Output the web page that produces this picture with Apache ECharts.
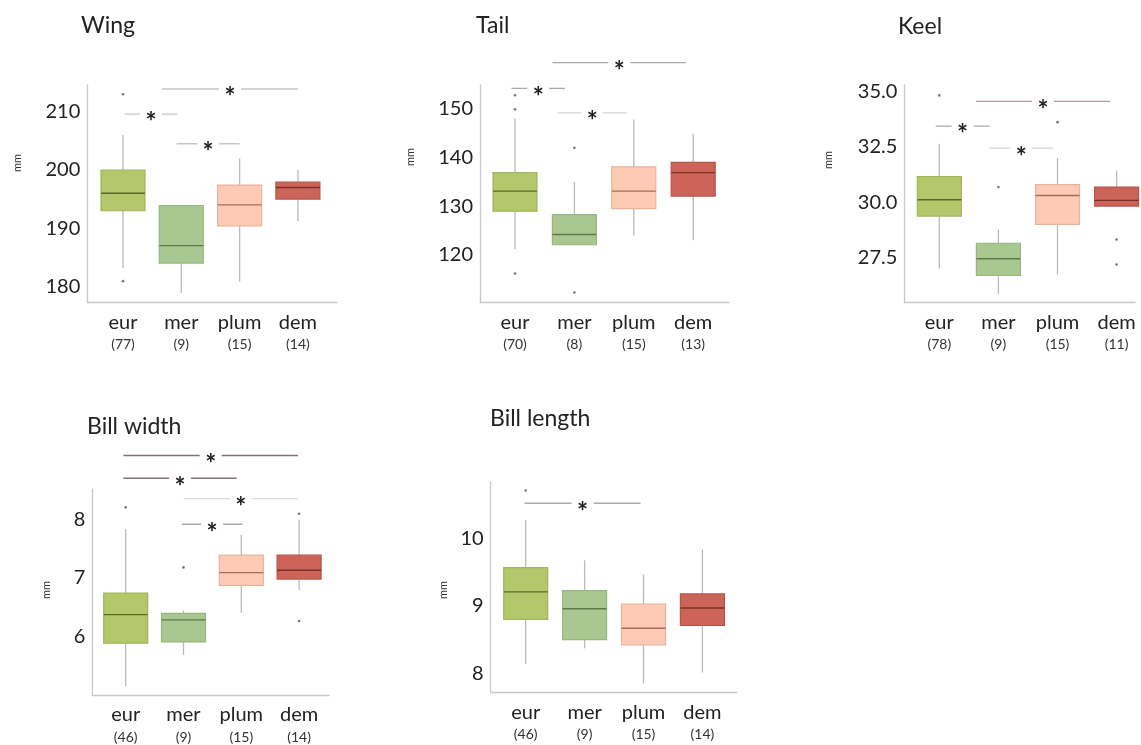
<!DOCTYPE html>
<html><head><meta charset="utf-8">
<script src="https://cdn.jsdelivr.net/npm/echarts@6/dist/echarts.min.js"></script>
<style>html,body{margin:0;padding:0;background:#fff}#c{width:1141px;height:745px}</style>
</head><body><div id="c"></div><script>
// ---------- DATA ----------
const categories = ['eur', 'mer', 'plum', 'dem'];
// each box: [min, Q1, median, Q3, max]
const wingBoxes = [[183.1,193.0,196.0,200.0,206.0],[178.9,184.0,187.0,193.9,193.9],[180.8,190.4,194.0,197.4,202.0],[191.2,195.0,197.0,197.9,200.0]];
const wingCounts = [77, 9, 15, 14];
const wingOutliers = [[0,213.0],[0,180.9]];
const wingSig = [[0.03,0.93,209.6],[0.92,2.0,204.5],[0.67,3.0,213.9]];
const wingRange = [177.2, 214.6];
const wingTicks = [180, 190, 200, 210];

const tailBoxes = [[121.2,129.0,133.1,136.9,148.0],[122.1,122.1,124.2,128.3,135.0],[124.0,129.5,133.1,138.1,147.8],[123.0,132.1,136.9,139.0,144.9]];
const tailCounts = [70, 8, 15, 13];
const tailOutliers = [[0,152.8],[0,149.9],[0,116.2],[1,142.0],[1,112.3]];
const tailSig = [[-0.06,0.84,154.2],[0.72,1.88,149.2],[0.63,2.88,159.5]];
const tailRange = [110.2, 154.9];
const tailTicks = [120, 130, 140, 150];

const keelBoxes = [[27.0,29.37,30.11,31.16,32.64],[25.85,26.68,27.44,28.14,28.76],[26.73,28.99,30.30,30.79,32.0],[29.82,29.82,30.08,30.68,31.43]];
const keelCounts = [78, 9, 15, 11];
const keelOutliers = [[0,34.83],[1,30.68],[2,33.62],[3,28.31],[3,27.18]];
const keelSig = [[-0.06,0.85,33.44],[0.85,1.92,32.44],[0.62,2.89,34.56]];
const keelRange = [25.45, 35.3];
const keelTicks = [27.5, 30.0, 32.5, 35.0];

const billWidthBoxes = [[5.14,5.88,6.37,6.74,7.84],[5.68,5.90,6.28,6.39,6.44],[6.40,6.87,7.09,7.39,7.74],[6.79,6.98,7.13,7.39,7.99]];
const billWidthCounts = [46, 9, 15, 14];
const billWidthOutliers = [[0,8.21],[1,7.18],[3,8.10],[3,6.26]];
const billWidthSig = [[-0.04,2.98,9.10],[-0.04,1.92,8.71],[1.0,2.98,8.36],[0.97,2.02,7.92]];
const billWidthRange = [4.99, 8.52];
const billWidthTicks = [6, 7, 8];

const billLengthBoxes = [[8.14,8.80,9.21,9.57,10.28],[8.37,8.50,8.96,9.23,9.68],[7.85,8.42,8.67,9.03,9.47],[8.01,8.71,8.97,9.18,9.84]];
const billLengthCounts = [46, 9, 15, 14];
const billLengthOutliers = [[0,10.72]];
const billLengthSig = [[-0.02,1.95,10.53]];
const billLengthRange = [7.71, 10.85];
const billLengthTicks = [8, 9, 10];

const titles = ['Wing', 'Tail', 'Keel', 'Bill width', 'Bill length'];
const unitLabel = 'mm';

// ---------- STYLES / LAYOUT ----------
const FONT = 'Lato, "Open Sans", sans-serif';
const boxStyles = [
  {fill:'#b4c76b', stroke:'#a2b55b', median:'#586a2c'},
  {fill:'#a9c891', stroke:'#97b77f', median:'#5c7a4b'},
  {fill:'#fdcbb5', stroke:'#e9b39b', median:'#a06e5b'},
  {fill:'#cd6459', stroke:'#b7544a', median:'#7b3027'}
];
const tones = {dark:'#857272', pink:'#b39c9c', mid:'#a9a9a9', soft:'#c6c6c6', light:'#dcdcdc'};
const panels = [
  {boxes:wingBoxes, counts:wingCounts, outliers:wingOutliers, sig:wingSig, range:wingRange, ticks:wingTicks, dec:0,
   sigTone:['soft','soft','soft'],
   L:{left:87.3,right:337,top:85,bottom:302.7,c0:123,step:58.3,title:[81,14],mm:[17,163]}},
  {boxes:tailBoxes, counts:tailCounts, outliers:tailOutliers, sig:tailSig, range:tailRange, ticks:tailTicks, dec:0,
   sigTone:['mid','light','mid'],
   L:{left:480,right:729,top:85,bottom:302.7,c0:515,step:59.4,title:[476,14],mm:[410,157]}},
  {boxes:keelBoxes, counts:keelCounts, outliers:keelOutliers, sig:keelSig, range:keelRange, ticks:keelTicks, dec:1,
   sigTone:['mid','light','pink'],
   L:{left:904.3,right:1135,top:85,bottom:302.7,c0:939.3,step:59.1,title:[898,15],mm:[828,160]}},
  {boxes:billWidthBoxes, counts:billWidthCounts, outliers:billWidthOutliers, sig:billWidthSig, range:billWidthRange, ticks:billWidthTicks, dec:0,
   sigTone:['dark','dark','light','mid'],
   L:{left:92.3,right:329,top:489.3,bottom:695,c0:125.7,step:57.8,title:[87,415],mm:[46,590]}},
  {boxes:billLengthBoxes, counts:billLengthCounts, outliers:billLengthOutliers, sig:billLengthSig, range:billLengthRange, ticks:billLengthTicks, dec:0,
   sigTone:['mid'],
   L:{left:490.7,right:736.7,top:481.7,bottom:692.7,c0:525.7,step:58.9,title:[490,407],mm:[443,590]}}
];
const BOX_W = 44;
const STAR_SIZE = 26;

const grid = [], xAxis = [], yAxis = [], series = [], title = [], graphic = [];
panels.forEach((p, k) => {
  const L = p.L;
  const og = 2*k, ig = 2*k+1;
  grid.push({left:L.left, top:L.top, width:L.right-L.left, height:L.bottom-L.top, containLabel:false, outerBoundsMode:'none'});
  grid.push({left:L.c0-L.step/2, top:L.top, width:L.step*4, height:L.bottom-L.top, containLabel:false, outerBoundsMode:'none'});
  const step = p.ticks[1]-p.ticks[0];
  // outer (frame) axes
  xAxis.push({type:'value', gridIndex:og, min:(L.left-L.c0)/L.step, max:(L.right-L.c0)/L.step,
    axisLine:{show:true, onZero:false, lineStyle:{color:'#c9c9c9', width:1.3}},
    axisTick:{show:false}, axisLabel:{show:false}, splitLine:{show:false}});
  yAxis.push({type:'value', gridIndex:og, min:p.range[0], max:p.range[1], minInterval:step, maxInterval:step,
    axisLine:{show:true, onZero:false, lineStyle:{color:'#c9c9c9', width:1.3}},
    axisTick:{show:false}, splitLine:{show:false},
    axisLabel:{show:true, margin:7, color:'#222', fontSize:20, fontFamily:FONT,
      showMinLabel:true, showMaxLabel:true,
      formatter: v => p.ticks.some(t => Math.abs(t - v) < 1e-6) ? v.toFixed(p.dec) : ''}});
  // inner (category label) axes
  xAxis.push({type:'category', gridIndex:ig, data:categories, boundaryGap:true,
    axisLine:{show:false}, axisTick:{show:false}, splitLine:{show:false},
    axisLabel:{show:true, interval:0, margin:8,
      formatter:(v, i) => '{a|' + v + '}\n{b|(' + p.counts[i] + ')}',
      rich:{a:{fontSize:20, lineHeight:24, color:'#222', fontFamily:FONT},
            b:{fontSize:14, lineHeight:20, color:'#333', fontFamily:FONT}}}});
  yAxis.push({type:'value', gridIndex:ig, min:p.range[0], max:p.range[1], show:false});

  // boxes
  series.push({type:'custom', xAxisIndex:og, yAxisIndex:og, clip:false, silent:true,
    data:p.boxes.map((b, i) => [i].concat(b)),
    encode:{x:0, y:[1,2,3,4,5]},
    renderItem:(params, api) => {
      const x = api.value(0);
      const lo = api.coord([x, api.value(1)]), q1 = api.coord([x, api.value(2)]),
            md = api.coord([x, api.value(3)]), q3 = api.coord([x, api.value(4)]),
            hi = api.coord([x, api.value(5)]);
      const s = boxStyles[params.dataIndex], hw = BOX_W/2;
      return {type:'group', children:[
        {type:'line', shape:{x1:lo[0], y1:lo[1], x2:hi[0], y2:hi[1]}, style:{stroke:'#bababa', lineWidth:1.3}},
        {type:'rect', shape:{x:q3[0]-hw, y:q3[1], width:BOX_W, height:q1[1]-q3[1]}, style:{fill:s.fill, stroke:s.stroke, lineWidth:1.2}},
        {type:'line', shape:{x1:md[0]-hw, y1:md[1], x2:md[0]+hw, y2:md[1]}, style:{stroke:s.median, lineWidth:1.4}}
      ]};
    }});
  // outliers
  series.push({type:'scatter', xAxisIndex:og, yAxisIndex:og, silent:true, clip:false,
    data:p.outliers, symbol:'circle', symbolSize:2.6, itemStyle:{color:'#555'}});
  // significance bars
  series.push({type:'custom', xAxisIndex:og, yAxisIndex:og, clip:false, silent:true,
    data:p.sig, encode:{x:[0,1], y:2},
    renderItem:(params, api) => {
      const y = api.value(2);
      const a = api.coord([api.value(0), y]), b = api.coord([api.value(1), y]);
      const cx = (a[0]+b[0])/2;
      const col = tones[p.sigTone[params.dataIndex]];
      return {type:'group', children:[
        {type:'line', shape:{x1:a[0], y1:a[1], x2:b[0], y2:b[1]}, style:{stroke:col, lineWidth:1.4}},
        {type:'rect', shape:{x:cx-11, y:a[1]-4, width:22, height:8}, style:{fill:'#fff'}},
        {type:'text', x:cx, y:a[1]+9, style:{text:'*', fontSize:STAR_SIZE, fontWeight:'bold', fontFamily:FONT,
          fill:'#222', align:'center', verticalAlign:'middle', textAlign:'center', textVerticalAlign:'middle'}}
      ]};
    }});

  title.push({text:titles[k], left:L.title[0], top:L.title[1], padding:0,
    textStyle:{fontSize:23, fontWeight:'normal', color:'#222', fontFamily:FONT}});
  graphic.push({type:'text', x:L.mm[0], y:L.mm[1], rotation:Math.PI/2,
    style:{text:unitLabel, fontSize:11, fontFamily:FONT, fill:'#333', align:'center', verticalAlign:'middle',
      textAlign:'center', textVerticalAlign:'middle'}});
});

const chart = echarts.init(document.getElementById('c'), null, {renderer:'canvas'});
chart.setOption({
  animation:false, backgroundColor:'#fff',
  textStyle:{fontFamily:FONT},
  title, grid, xAxis, yAxis, series, graphic
});
</script></body></html>
